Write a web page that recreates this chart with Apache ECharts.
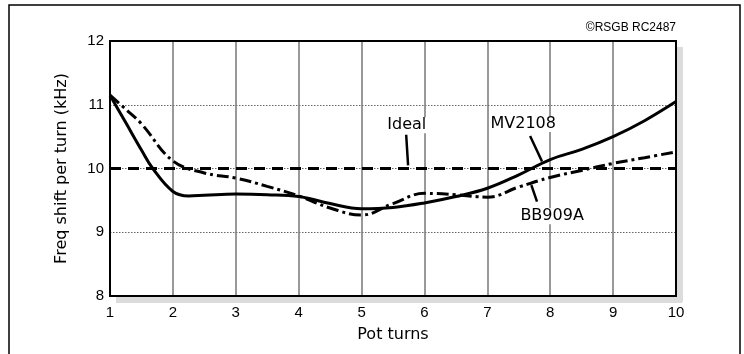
<!DOCTYPE html>
<html><head><meta charset="utf-8">
<script src="https://cdn.jsdelivr.net/npm/echarts@6/dist/echarts.min.js"></script>
<style>html,body{margin:0;padding:0;background:#fff}#c{width:744px;height:354px}</style>
</head><body><div id="c"></div>
<script>
// ---- data ----
const xTickLabels = [1, 2, 3, 4, 5, 6, 7, 8, 9, 10];
const yTickLabels = [8, 9, 10, 11, 12];
const idealTurns = [1, 10];
const idealValues = [10, 10];
const mvTurns  = [1, 1.25, 1.5, 1.68, 2, 2.25, 2.5, 3, 3.5, 4, 4.5, 5, 5.5, 6, 6.5, 7, 7.5, 8, 8.5, 9, 9.5, 10];
const mvValues = [11.15, 10.72, 10.29, 10.0, 9.64, 9.57, 9.58, 9.6, 9.59, 9.56, 9.45, 9.37, 9.39, 9.46, 9.56, 9.69, 9.9, 10.14, 10.3, 10.5, 10.75, 11.05];
const bbTurns  = [1, 1.25, 1.5, 2, 2.5, 3, 3.5, 4, 4.5, 5, 5.5, 6, 6.5, 7, 7.5, 8, 8.5, 9, 9.5, 10];
const bbValues = [11.15, 10.93, 10.7, 10.12, 9.93, 9.85, 9.72, 9.57, 9.38, 9.27, 9.45, 9.61, 9.59, 9.55, 9.71, 9.86, 9.97, 10.08, 10.17, 10.26];
// annotation anchors in data space: [label, label x, label y, pointer x1, y1, x2, y2]
const annIdeal  = ['Ideal',  5.72, 10.68, 5.71, 10.53, 5.74, 10.05];
const annMV     = ['MV2108', 7.57, 10.70, 7.68, 10.51, 7.87, 10.11];
const annBB     = ['BB909A', 8.03, 9.25, 7.70, 9.74, 7.79, 9.48];
const copyright = '\u00A9RSGB RC2487';

const zip = (a, b) => a.map((v, i) => [v, b[i]]);
const FONT = 'DejaVu Sans';
const chart = echarts.init(document.getElementById('c'), null, {renderer: 'canvas'});
chart.setOption({
  animation: false,
  backgroundColor: '#fff',
  grid: {left: 110, top: 41, right: 68, bottom: 58, show: false},
  xAxis: {
    type: 'value', min: 1, max: 10, interval: 1,
    name: 'Pot turns', nameLocation: 'middle', nameGap: 31,
    nameTextStyle: {fontFamily: FONT, fontSize: 16, color: '#000'},
    axisLine: {show: true, lineStyle: {color: '#000', width: 2}},
    axisTick: {show: false},
    axisLabel: {margin: 9, fontFamily: 'Liberation Sans', fontSize: 15, color: '#000',
      formatter: v => xTickLabels.includes(v) ? String(v) : ''},
    splitLine: {show: true, lineStyle: {color: '#777', width: 1.5, type: 'solid'}}
  },
  yAxis: {
    type: 'value', min: 8, max: 12, interval: 1,
    name: 'Freq shift per turn (kHz)', nameLocation: 'middle', nameGap: 40, nameRotate: 90,
    nameTextStyle: {fontFamily: FONT, fontSize: 16, color: '#000'},
    axisLine: {show: true, lineStyle: {color: '#000', width: 2}},
    axisTick: {show: false},
    axisLabel: {margin: 6, fontFamily: 'Liberation Sans', fontSize: 15, color: '#000',
      formatter: v => yTickLabels.includes(v) ? String(v) : ''},
    splitLine: {show: true, lineStyle: {color: '#666', width: 1, type: [1.5, 1.5]}}
  },
  series: [
    {name: 'Ideal', type: 'line', data: zip(idealTurns, idealValues), symbol: 'none',
     lineStyle: {color: '#000', width: 3, type: [11, 7]}, z: 3},
    {name: 'MV2108', type: 'line', data: zip(mvTurns, mvValues), symbol: 'none', smooth: 0.4,
     lineStyle: {color: '#000', width: 3}, z: 4},
    {name: 'BB909A', type: 'line', data: zip(bbTurns, bbValues), symbol: 'none', smooth: 0.4,
     lineStyle: {color: '#000', width: 3, type: [12, 4, 3, 4]}, z: 4}
  ]
});

const px = (x, y) => chart.convertToPixel({gridIndex: 0}, [x, y]);
const gfx = [];
const tl = px(1, 12), br = px(10, 8);
const SH = 6;
// drop shadow strips on the right and bottom of the plot frame
gfx.push({type: 'rect', z: -1, shape: {x: br[0] + 1, y: tl[1] + SH, width: SH, height: br[1] - tl[1]},
  style: {fill: '#dcdcdc'}});
gfx.push({type: 'rect', z: -1, shape: {x: tl[0] + SH, y: br[1] + 1, width: br[0] - tl[0], height: SH},
  style: {fill: '#dcdcdc'}});
// plot frame
gfx.push({type: 'rect', z: 9, shape: {x: tl[0], y: tl[1], width: br[0] - tl[0], height: br[1] - tl[1]},
  style: {fill: 'none', stroke: '#000', lineWidth: 2}});
[annIdeal, annMV, annBB].forEach(a => {
  const p = px(a[1], a[2]), p1 = px(a[3], a[4]), p2 = px(a[5], a[6]);
  gfx.push({type: 'text', x: p[0], y: p[1], z: 10,
    style: {text: a[0], fill: '#000', font: '16px ' + FONT, align: 'center', verticalAlign: 'middle',
      backgroundColor: '#fff'}});
  gfx.push({type: 'line', z: 10, shape: {x1: p1[0], y1: p1[1], x2: p2[0], y2: p2[1]},
    style: {stroke: '#000', lineWidth: 2.5}});
});
gfx.push({type: 'text', x: br[0], y: tl[1] - 13, z: 10,
  style: {text: copyright, fill: '#000', font: '12px Liberation Sans', align: 'right', verticalAlign: 'middle'}});
gfx.push({type: 'rect', z: 10, shape: {x: 9, y: 5, width: 731, height: 400},
  style: {fill: 'none', stroke: '#000', lineWidth: 1.5}});
chart.setOption({graphic: gfx});
</script>
</body></html>
